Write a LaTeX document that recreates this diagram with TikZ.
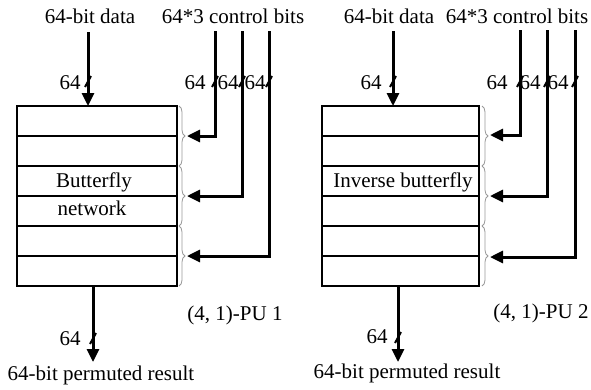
\documentclass[tikz,border=0pt]{standalone}
\usepackage{fontspec}
\setmainfont{Liberation Serif}
\usetikzlibrary{arrows.meta,decorations.pathreplacing}

\tikzset{
  lbl/.style={font=\fontsize{21}{24}\selectfont, inner sep=0pt, anchor=base},
  rowbox/.style={draw, line width=1.5pt, minimum height=30pt, inner sep=0pt, outer sep=0pt},
  bus/.style={line width=3pt, line join=miter, -{Triangle[length=13pt,width=12pt]}},
  buswire/.style={line width=3pt},
  tickmark/.style={line width=2pt},
  bracegray/.style={draw=gray!80, line width=0.8pt, decorate, decoration={brace, amplitude=6pt}},
}

% bus-width slash drawn across a vertical wire
\newcommand{\buswidth}[1]{\draw[tickmark] ($(#1)+(-3,6)$) -- ($(#1)+(3,-5)$);}

\usetikzlibrary{calc}

\begin{document}
\begin{tikzpicture}[x=1pt,y=-1pt]
\useasboundingbox (0,0) rectangle (591,389);

% ---------------- unit 1: butterfly network ----------------
\foreach \i/\yc in {1/121,2/151,3/181,4/211,5/241,6/271}
  \node[rowbox, minimum width=160pt] (L\i) at (97,\yc) {};
\draw[line width=2pt] (L1.north west) rectangle (L6.south east);

\node[lbl] (tdL) at (90,23) {64-bit data};
\node[lbl] (tcL) at (233,23) {64*3 control bits};
\node[lbl] (nbL) at (94,187) {Butterfly};
\node[lbl] (nnL) at (92,215) {network};
\node[lbl] (puL) at (235,320) {(4, 1)-PU 1};
\node[lbl] (orL) at (101,380) {64-bit permuted result};

% control braces, one per pair of rows
\draw[bracegray] (179,106) -- coordinate[xshift=6pt] (bL1) (179,166);
\draw[bracegray] (179,166) -- coordinate[xshift=6pt] (bL2) (179,226);
\draw[bracegray] (179,226) -- coordinate[xshift=6pt] (bL3) (179,286);

% data in / out
\coordinate (inL) at (88,32);
\draw[bus] (inL) -- (L1.north -| inL);
\coordinate (outL) at (93,362);
\draw[bus] (L6.south -| outL) -- (outL);

% control wires
\coordinate (cL1) at (215,31);
\coordinate (cL2) at (242,31);
\coordinate (cL3) at (269,31);
\coordinate (aL1) at (187,136);
\coordinate (aL2) at (187,196);
\coordinate (aL3) at (187,256);
\draw[bus] (cL1) |- (aL1);
\draw[bus] (cL2) |- (aL2);
\draw[bus] (cL3) |- (aL3);

% bus widths
\buswidth{88,81}
\node[lbl] (wL0) at (70,89) {64};
\buswidth{215,81}
\buswidth{242,81}
\buswidth{269,81}
\node[lbl] (wL1) at (195,89) {64};
\node[lbl] (wL2) at (228,89) {64};
\node[lbl] (wL3) at (255,89) {64};
\buswidth{93,338}
\node[lbl] (wL4) at (70,345) {64};

% ---------------- unit 2: inverse butterfly network ----------------
\foreach \i/\yc in {1/121,2/151,3/181,4/211,5/241,6/271}
  \node[rowbox, minimum width=157pt] (R\i) at (400.5,\yc) {};
\draw[line width=2pt] (R1.north west) rectangle (R6.south east);

\node[lbl] (tdR) at (389,23) {64-bit data};
\node[lbl] (tcR) at (517,23) {64*3 control bits};
\node[lbl] (nbR) at (403,187) {Inverse butterfly};
\node[lbl] (puR) at (541,318) {(4, 1)-PU 2};
\node[lbl] (orR) at (407,378) {64-bit permuted result};

\draw[bracegray] (482,106) -- (482,166);
\draw[bracegray] (482,166) -- (482,226);
\draw[bracegray] (482,226) -- (482,286);

\coordinate (inR) at (393,31);
\draw[bus] (inR) -- (R1.north -| inR);
\coordinate (outR) at (398,362);
\draw[bus] (R6.south -| outR) -- (outR);

\coordinate (cR1) at (520,30);
\coordinate (cR2) at (547,30);
\coordinate (cR3) at (575,30);
\coordinate (aR1) at (490,135);
\coordinate (aR2) at (490,196);
\coordinate (aR3) at (490,257);
\draw[bus] (cR1) |- (aR1);
\draw[bus] (cR2) |- (aR2);
\draw[bus] (cR3) |- (aR3);

\buswidth{393,81}
\node[lbl] (wR0) at (371,89) {64};
\buswidth{520,81}
\buswidth{547,81}
\buswidth{575,81}
\node[lbl] (wR1) at (497,89) {64};
\node[lbl] (wR2) at (530,89) {64};
\node[lbl] (wR3) at (558,89) {64};
\buswidth{398,337}
\node[lbl] (wR4) at (377,343) {64};
\end{tikzpicture}
\end{document}
